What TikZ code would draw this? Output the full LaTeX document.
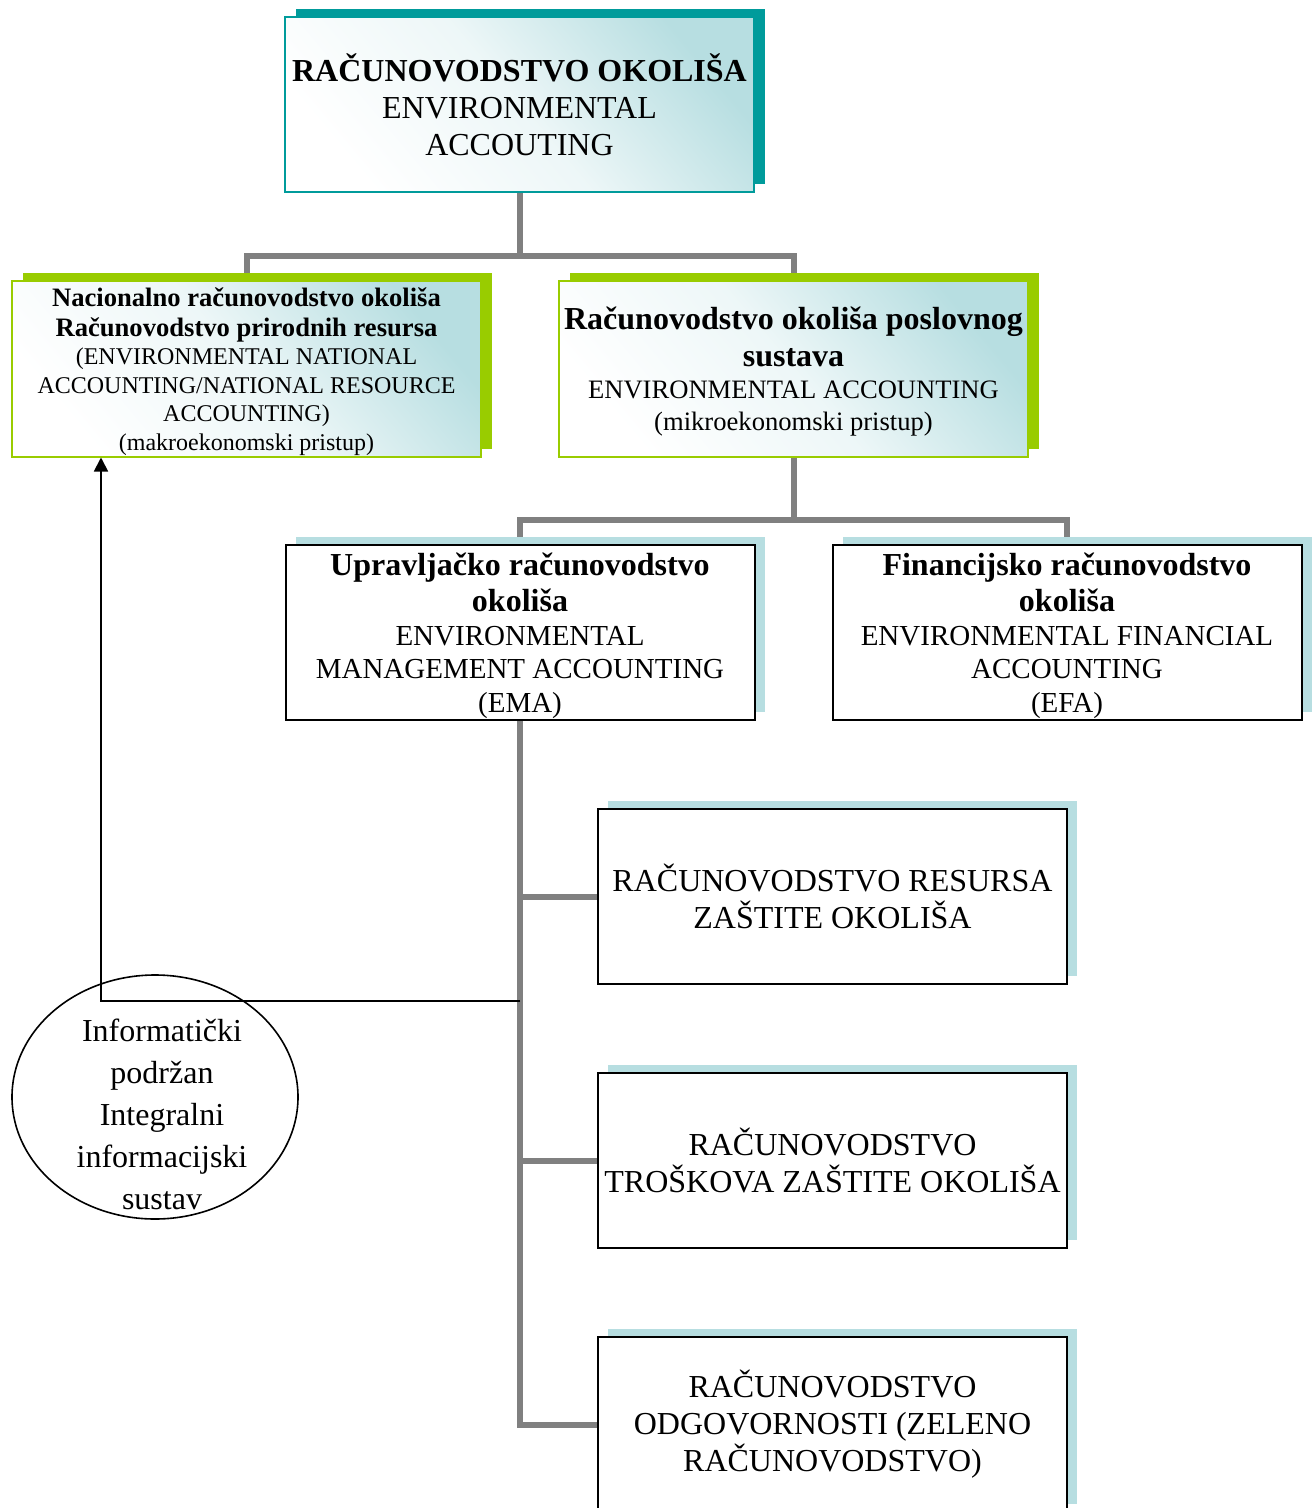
\documentclass[tikz,border=0pt]{standalone}
\usepackage{fontspec}
\setmainfont{Liberation Serif}
\usetikzlibrary{shapes.geometric,shadows,arrows.meta,backgrounds}
\definecolor{tealc}{RGB}{0,155,155}
\definecolor{greenc}{RGB}{153,204,0}
\definecolor{lightb}{RGB}{183,222,225}
\definecolor{grayc}{RGB}{128,128,128}
\begin{document}
\begin{tikzpicture}[x=0.5pt,y=-0.5pt,
  basebox/.style={rectangle, minimum width=234.5pt, minimum height=87.5pt, inner sep=1pt, align=center},
  gradfill/.style={top color=lightb, bottom color=white, middle color=lightb!25, shading angle=-50},
  topbox/.style={basebox, draw=tealc, line width=0.8pt, gradfill,
     general shadow={fill=tealc, shadow xshift=5.5pt, shadow yshift=4pt}},
  greenbox/.style={basebox, draw=greenc, line width=1pt, gradfill,
     general shadow={fill=greenc, shadow xshift=5.5pt, shadow yshift=4pt}},
  plainbox/.style={basebox, draw=black, line width=1pt, fill=white,
     general shadow={fill=lightb, shadow xshift=5pt, shadow yshift=4pt}},
  conn/.style={draw=grayc, line width=3pt},
  arrowline/.style={draw=black, line width=0.9pt, -{Triangle[length=7pt,width=7pt]}},
  ovalnode/.style={ellipse, draw=black, line width=0.8pt, minimum width=143pt, minimum height=122pt, inner sep=0pt},
]
\useasboundingbox (0,0) rectangle (1312,1508);

\node[topbox, font=\fontsize{16}{18.5}\selectfont] (top) at (519.5,104.5)
  {{\bfseries RAČUNOVODSTVO OKOLIŠA}\\ENVIRONMENTAL\\ACCOUTING};

\node[greenbox, font=\fontsize{12}{14.2}\selectfont, text depth=-0.9pt] (nat) at (246.5,369)
  {{\fontsize{13.3}{15}\selectfont\bfseries Nacionalno računovodstvo okoliša}\\[0.8pt]{\fontsize{13.3}{15}\selectfont\bfseries Računovodstvo prirodnih resursa}\\(ENVIRONMENTAL NATIONAL\\ACCOUNTING/NATIONAL RESOURCE\\ACCOUNTING)\\(makroekonomski pristup)};

\node[greenbox, font=\fontsize{13.3}{16}\selectfont, text depth=-1.6pt] (bus) at (793.5,369)
  {{\fontsize{16}{18.5}\selectfont\bfseries Računovodstvo okoliša poslovnog}\\[2.5pt]{\fontsize{16}{18.5}\selectfont\bfseries sustava}\\ENVIRONMENTAL ACCOUNTING\\(mikroekonomski pristup)};

\node[plainbox, font=\fontsize{14.5}{16.75}\selectfont, text depth=-2.4pt] (ema) at (520,632.5)
  {{\fontsize{16}{18.5}\selectfont\bfseries Upravljačko računovodstvo}\\[1.25pt]{\fontsize{16}{18.5}\selectfont\bfseries okoliša}\\ENVIRONMENTAL\\MANAGEMENT ACCOUNTING\\(EMA)};

\node[plainbox, font=\fontsize{14.5}{16.75}\selectfont, text depth=-2.4pt] (efa) at (1067,632.5)
  {{\fontsize{16}{18.5}\selectfont\bfseries Financijsko računovodstvo}\\[1.25pt]{\fontsize{16}{18.5}\selectfont\bfseries okoliša}\\ENVIRONMENTAL FINANCIAL\\ACCOUNTING\\(EFA)};

\node[plainbox, font=\fontsize{16}{18.5}\selectfont] (b1) at (832.5,896.5)
  {RAČUNOVODSTVO RESURSA\\ZAŠTITE OKOLIŠA};
\node[plainbox, font=\fontsize{16}{18.5}\selectfont] (b2) at (832.5,1160.5)
  {RAČUNOVODSTVO\\TROŠKOVA ZAŠTITE OKOLIŠA};
\node[plainbox, font=\fontsize{16}{18.5}\selectfont] (b3) at (832.5,1424.5)
  {RAČUNOVODSTVO\\ODGOVORNOSTI (ZELENO\\RAČUNOVODSTVO)};

\node[ovalnode] (iis) at (155,1097) {};
\node[align=center, inner sep=0pt, font=\fontsize{16}{21}\selectfont] (iistext) at (162,1114)
  {Informatički\\podržan\\Integralni\\informacijski\\sustav};

\coordinate (j1y) at (0,256);
\coordinate (j2y) at (0,520);
\coordinate (ay) at (0,1001);
\coordinate (ax) at (101,0);

\begin{scope}[on background layer]
  \draw[conn] (top.south) -- (top.south |- j1y);
  \draw[conn] (nat.north) |- (top.south |- j1y) -| (bus.north);
  \draw[conn] (bus.south) -- (bus.south |- j2y);
  \draw[conn] (ema.north) |- (bus.south |- j2y) -| (efa.north);
  \draw[conn] (ema.south) |- (b3.west);
  \draw[conn] (ema.south |- b1.west) -- (b1.west);
  \draw[conn] (ema.south |- b2.west) -- (b2.west);
\end{scope}
\draw[arrowline] (ema.south |- ay) -| (nat.south -| ax);
\end{tikzpicture}
\end{document}
